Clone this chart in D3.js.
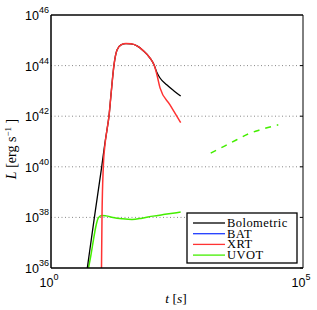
<!DOCTYPE html>
<html>
<head>
<meta charset="utf-8">
<script src="https://cdn.jsdelivr.net/npm/d3@7"></script>
<style>
  body { margin: 0; background: #fff; }
  text { font-family: "Liberation Sans", Arial, sans-serif; }
  .serif { font-family: "Liberation Serif", "Times New Roman", serif; }
</style>
</head>
<body>
<div id="chart"></div>
<script>
// values, as log10 of t [s] and L [erg/s]
var bolLogT = [0.72, 0.863, 1.006, 1.071, 1.111, 1.151, 1.19, 1.25, 1.31, 1.389, 1.488, 1.587, 1.706, 1.825, 1.964, 2.044, 2.097, 2.163, 2.296, 2.44, 2.573];
var bolLogL = [36, 38.03, 40.0, 40.95, 41.46, 42.01, 42.84, 44.03, 44.62, 44.82, 44.87, 44.86, 44.78, 44.6, 44.3, 44.03, 43.75, 43.51, 43.24, 43.0, 42.8];

var xrtLogT = [1.002, 1.012, 1.038, 1.071, 1.111, 1.151, 1.19, 1.25, 1.31, 1.389, 1.488, 1.587, 1.706, 1.825, 1.964, 2.044, 2.103, 2.163, 2.361, 2.573];
var xrtLogL = [36, 38.03, 40.0, 40.87, 41.46, 42.01, 42.84, 44.03, 44.62, 44.82, 44.87, 44.86, 44.78, 44.6, 44.3, 44.03, 43.63, 43.12, 42.45, 41.75];

var uvotLogT = [0.744, 0.794, 0.843, 0.893, 0.942, 1.002, 1.091, 1.23, 1.409, 1.607, 1.806, 2.024, 2.262, 2.573];
var uvotLogL = [36, 36.53, 37.12, 37.67, 37.99, 38.08, 38.06, 38.0, 37.95, 37.92, 37.97, 38.05, 38.12, 38.21];

var uvotLateLogT = [3.169, 3.452, 3.685, 3.915, 4.147, 4.51];
var uvotLateLogL = [40.54, 40.83, 41.07, 41.3, 41.46, 41.66];

var yTickExp = [36, 38, 40, 42, 44, 46];
var xTickExp = [0, 5];
var legendNames = ["Bolometric", "BAT", "XRT", "UVOT"];
var legendColors = ["#000000", "#1f3cff", "#ff3333", "#44ee00"];

var svgWidth = 317, svgHeight = 310;
var margin = { top: 15, right: 14, bottom: 42, left: 51 };
var width = svgWidth - margin.left - margin.right;
var height = svgHeight - margin.top - margin.bottom;

var svg = d3.select("#chart").append("svg")
  .attr("width", svgWidth)
  .attr("height", svgHeight)
  .append("g")
  .attr("transform", "translate(" + margin.left + "," + margin.top + ")");

var xScale = d3.scaleLog().domain([1, 1e5]).range([0, width]);
var yScale = d3.scaleLog().domain([1e36, 1e46]).range([height, 0]);

function pts(lt, ll) {
  return lt.map(function(d, i) { return [Math.pow(10, d), Math.pow(10, ll[i])]; });
}

// grid
svg.selectAll(".grid")
  .data(yTickExp.slice(1, -1))
  .enter().append("line")
  .attr("x1", 0).attr("x2", width)
  .attr("y1", function(d) { return yScale(Math.pow(10, d)); })
  .attr("y2", function(d) { return yScale(Math.pow(10, d)); })
  .attr("stroke", "#888")
  .attr("stroke-width", 1)
  .attr("stroke-dasharray", "1,2.5");

// right ticks
svg.selectAll(".rtick")
  .data(yTickExp)
  .enter().append("line")
  .attr("x1", width - 3).attr("x2", width)
  .attr("y1", function(d) { return yScale(Math.pow(10, d)); })
  .attr("y2", function(d) { return yScale(Math.pow(10, d)); })
  .attr("stroke", "#000");

var line = d3.line()
  .x(function(d) { return xScale(d[0]); })
  .y(function(d) { return yScale(d[1]); })
  .curve(d3.curveMonotoneX);

svg.append("clipPath").attr("id", "clip")
  .append("rect").attr("width", width).attr("height", height);

var curves = svg.append("g").attr("clip-path", "url(#clip)");

curves.append("path").datum(pts(uvotLogT, uvotLogL))
  .attr("d", line).attr("fill", "none")
  .attr("stroke", legendColors[3]).attr("stroke-width", 1.5);

curves.append("path").datum(pts(uvotLateLogT, uvotLateLogL))
  .attr("d", line).attr("fill", "none")
  .attr("stroke", legendColors[3]).attr("stroke-width", 1.5)
  .attr("stroke-dasharray", "6,6");

curves.append("path").datum(pts(bolLogT, bolLogL))
  .attr("d", line).attr("fill", "none")
  .attr("stroke", legendColors[0]).attr("stroke-width", 1.3);

curves.append("path").datum(pts(xrtLogT, xrtLogL))
  .attr("d", line).attr("fill", "none")
  .attr("stroke", legendColors[2]).attr("stroke-width", 1.5);

// frame
svg.append("line").attr("x1", 0).attr("x2", width).attr("y1", 0).attr("y2", 0)
  .attr("stroke", "#444").attr("stroke-width", 2);
svg.append("line").attr("x1", 0).attr("x2", 0).attr("y1", 0).attr("y2", height)
  .attr("stroke", "#000").attr("stroke-width", 1.5);
svg.append("line").attr("x1", 0).attr("x2", width).attr("y1", height).attr("y2", height)
  .attr("stroke", "#000").attr("stroke-width", 1.5);
svg.append("line").attr("x1", width).attr("x2", width).attr("y1", 0).attr("y2", height)
  .attr("stroke", "#000").attr("stroke-width", 1);

// y tick labels
var yl = svg.selectAll(".ylab")
  .data(yTickExp)
  .enter().append("text")
  .attr("x", -2)
  .attr("y", function(d) { return yScale(Math.pow(10, d)) + 5; })
  .attr("text-anchor", "end")
  .attr("font-size", 12.5);
yl.append("tspan").text("10");
yl.append("tspan").attr("dy", -7).attr("font-size", 9).text(function(d) { return d; });

// x tick labels
var xl = svg.selectAll(".xlab")
  .data(xTickExp)
  .enter().append("text")
  .attr("x", function(d) { return xScale(Math.pow(10, d)) - 2; })
  .attr("y", height + 19)
  .attr("text-anchor", "middle")
  .attr("font-size", 12.5);
xl.append("tspan").text("10");
xl.append("tspan").attr("dy", -7).attr("font-size", 9).text(function(d) { return d; });

// axis titles
var xt = svg.append("text").attr("class", "serif")
  .attr("x", 125).attr("y", height + 35)
  .attr("text-anchor", "middle").attr("font-size", 13.5);
xt.append("tspan").attr("font-style", "italic").text("t");
xt.append("tspan").text(" [");
xt.append("tspan").attr("font-style", "italic").text("s");
xt.append("tspan").text("]");

var yt = svg.append("text").attr("class", "serif")
  .attr("transform", "translate(-35," + 134 + ") rotate(-90)")
  .attr("text-anchor", "middle").attr("font-size", 14);
yt.append("tspan").attr("font-style", "italic").text("L");
yt.append("tspan").text(" [erg s");
yt.append("tspan").attr("dy", -5).attr("font-size", 9).text("\u22121");
yt.append("tspan").attr("dy", 5).text(" ]");

// legend
var lg = svg.append("g").attr("transform", "translate(136,198)");
lg.append("rect").attr("width", 110).attr("height", 50)
  .attr("fill", "#fff").attr("stroke", "#000").attr("stroke-width", 1.3);
var items = lg.selectAll(".item").data(legendNames).enter().append("g")
  .attr("transform", function(d, i) { return "translate(0," + (10 + i * 10.7) + ")"; });
items.append("line").attr("x1", 6).attr("x2", 38)
  .attr("stroke", function(d, i) { return legendColors[i]; })
  .attr("stroke-width", 1.3);
items.append("text").attr("class", "serif")
  .attr("x", 40).attr("y", 4)
  .attr("font-size", 12.5)
  .attr("letter-spacing", 0.45)
  .text(function(d) { return d; });
</script>
</body>
</html>
